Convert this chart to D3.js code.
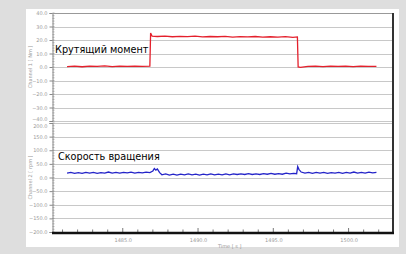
<!DOCTYPE html>
<html lang="ru">
<head>
    <meta charset="utf-8">
    <title>Torque and speed</title>
    <style>
        body, html { margin: 0; height: 100%; overflow: hidden; background: #dedede; }
        svg { display: block; }
        .tick-label { font: 5px "DejaVu Sans", sans-serif; fill: #999; }
        .note { font: 9.7px "DejaVu Sans", sans-serif; fill: #000; }
    </style>
    <script src="https://d3js.org/d3.v7.min.js"></script>
</head>
<body>
    <svg></svg>

    <script>
        // values
        const torqueTicks = [40, 30, 20, 10, 0, -10, -20, -30, -40];
        const speedTicks = [200, 150, 100, 50, 0, -50, -100, -150, -200];
        const timeTicks = [1485, 1490, 1495, 1500];

        const torqueTime = [1481.3, 1481.8, 1482.3, 1482.8, 1483.3, 1483.8, 1484.3, 1484.8, 1485.3, 1485.8, 1486.3, 1486.8,
            1486.85, 1486.95,
            1487.3, 1487.8, 1488.3, 1488.8, 1489.3, 1489.8, 1490.3, 1490.8, 1491.3, 1491.8, 1492.3, 1492.8, 1493.3, 1493.8,
            1494.3, 1494.8, 1495.3, 1495.8, 1496.3,
            1496.6, 1496.65, 1496.8,
            1497.3, 1497.8, 1498.3, 1498.8, 1499.3, 1499.8, 1500.3, 1500.8, 1501.3, 1501.85];
        const torqueVal = [0.3, 0.6, 0.2, 0.7, 0.4, 0.8, 0.3, 0.6, 0.5, 0.7, 0.4, 0.6,
            25.2, 22.8,
            22.6, 22.9, 22.4, 22.7, 22.5, 22.8, 22.3, 22.6, 22.4, 22.7, 22.2, 22.5, 22.3, 22.6,
            22.1, 22.4, 22.2, 22.5, 22.0,
            22.3, 0.0, -0.3,
            0.4, 0.6, 0.3, 0.7, 0.4, 0.6, 0.3, 0.7, 0.4, 0.5];

        const speed = [
            [1481.3, 16], [1481.55, 19], [1481.8, 15], [1482.05, 18], [1482.3, 15], [1482.55, 19], [1482.8, 16],
            [1483.05, 19], [1483.3, 15], [1483.55, 18], [1483.8, 16], [1484.05, 20], [1484.3, 16], [1484.55, 19],
            [1484.8, 16], [1485.05, 19], [1485.3, 17], [1485.55, 20], [1485.8, 16], [1486.05, 19], [1486.3, 17],
            [1486.55, 20], [1486.8, 18], [1487.0, 24], [1487.1, 33], [1487.2, 27], [1487.3, 31], [1487.45, 18],
            [1487.6, 10], [1487.85, 13], [1488.1, 9], [1488.35, 12], [1488.6, 9], [1488.85, 12], [1489.1, 10],
            [1489.35, 13], [1489.6, 10], [1489.85, 12], [1490.1, 9], [1490.35, 12], [1490.6, 10], [1490.85, 13],
            [1491.1, 10], [1491.35, 12], [1491.6, 10], [1491.85, 13], [1492.1, 10], [1492.35, 13], [1492.6, 11],
            [1492.85, 13], [1493.1, 11], [1493.35, 14], [1493.6, 11], [1493.85, 13], [1494.1, 11], [1494.35, 14],
            [1494.6, 12], [1494.85, 15], [1495.1, 12], [1495.35, 14], [1495.6, 12], [1495.85, 16], [1496.1, 13],
            [1496.35, 15], [1496.55, 14], [1496.62, 40], [1496.7, 30], [1496.85, 20], [1497.1, 16], [1497.35, 19],
            [1497.6, 15], [1497.85, 19], [1498.1, 16], [1498.35, 19], [1498.6, 15], [1498.85, 18], [1499.1, 16],
            [1499.35, 19], [1499.6, 15], [1499.85, 19], [1500.1, 16], [1500.35, 20], [1500.6, 16], [1500.85, 19],
            [1501.1, 16], [1501.35, 20], [1501.6, 17], [1501.85, 19]
        ];

        const width = 406, height = 254;
        const plotL = 52, plotR = 393, plotT = 13, plotB = 232;

        const svg = d3.select("svg").attr("width", width).attr("height", height);

        // white panel
        svg.append("rect")
            .attr("x", 26).attr("y", 9)
            .attr("width", 373).attr("height", 238)
            .attr("fill", "#fff");

        const x = d3.scaleLinear().domain([1480.3, 1502.95]).range([plotL, plotR]);
        const yT = d3.scaleLinear().domain([-40, 40]).range([121, plotT]);
        const yS = d3.scaleLinear().domain([-200, 200]).range([plotB, 123]);

        // gridlines
        const grid = svg.append("g").attr("stroke", "#c8c8c8").attr("stroke-width", 1);
        torqueTicks.forEach(t => {
            grid.append("line")
                .attr("x1", plotL).attr("x2", plotR)
                .attr("y1", Math.round(yT(t)) + 0.5).attr("y2", Math.round(yT(t)) + 0.5);
        });
        speedTicks.filter(t => t > -200).forEach(t => {
            grid.append("line")
                .attr("x1", plotL).attr("x2", plotR)
                .attr("y1", Math.round(yS(t)) + 0.5).attr("y2", Math.round(yS(t)) + 0.5);
        });

        // left axes
        const axT = d3.axisLeft(yT).tickValues(torqueTicks).tickFormat(d3.format(".1f")).tickSize(3).tickPadding(2);
        const axS = d3.axisLeft(yS).tickValues(speedTicks).tickFormat(d3.format(".1f")).tickSize(3).tickPadding(2);
        [[axT, yT, d3.range(-40, 41, 2), -40, -2.6], [axS, yS, d3.range(-200, 201, 10), 200, 2.6]].forEach(([ax, sc, minor, edge, nudge]) => {
            const g = svg.append("g").attr("transform", `translate(${plotL + 0.5},0)`).call(ax);
            g.select(".domain").attr("stroke", "#888");
            g.selectAll(".tick line").attr("stroke", "#888");
            g.selectAll(".tick text").attr("class", "tick-label");
            // the two panels touch, so pull the touching labels apart a little
            g.selectAll(".tick").filter(d => d === edge).select("text").attr("y", nudge);
            g.selectAll(".minor").data(minor).enter().append("line")
                .attr("x1", 0).attr("x2", 2)
                .attr("y1", d => sc(d)).attr("y2", d => sc(d))
                .attr("stroke", "#888").attr("stroke-width", 0.6);
        });

        // axis titles
        svg.append("text").attr("class", "tick-label")
            .attr("transform", `translate(32,${yT(0)}) rotate(-90)`)
            .attr("text-anchor", "middle")
            .text("Channel 1 [ Nm ]");
        svg.append("text").attr("class", "tick-label")
            .attr("transform", `translate(32,${yS(0)}) rotate(-90)`)
            .attr("text-anchor", "middle")
            .text("Channel 2 [ rpm ]");

        // bottom axis
        const axX = d3.axisBottom(x).tickValues(timeTicks).tickFormat(d3.format(".1f")).tickSize(0).tickPadding(6);
        const gx = svg.append("g").attr("transform", `translate(0,${plotB})`).call(axX);
        gx.select(".domain").remove();
        gx.selectAll(".tick text").attr("class", "tick-label");
        gx.selectAll(".minor").data(d3.range(1481, 1503)).enter().append("line")
            .attr("x1", d => x(d)).attr("x2", d => x(d))
            .attr("y1", d => d % 5 === 0 ? -4 : -2.5).attr("y2", 0)
            .attr("stroke", "#555").attr("stroke-width", 0.8);
        svg.append("text").attr("class", "tick-label")
            .attr("x", x(1492.1)).attr("y", 248)
            .attr("text-anchor", "middle")
            .text("Time [ s ]");

        // frame
        svg.append("line").attr("x1", plotL).attr("x2", plotR).attr("y1", plotT + 0.5).attr("y2", plotT + 0.5)
            .attr("stroke", "#999");
        svg.append("line").attr("x1", plotR).attr("x2", plotR).attr("y1", plotT).attr("y2", plotB + 2)
            .attr("stroke", "#333").attr("stroke-width", 2);
        svg.append("line").attr("x1", plotL).attr("x2", plotR + 1).attr("y1", plotB + 1).attr("y2", plotB + 1)
            .attr("stroke", "#111").attr("stroke-width", 2.5);

        // series
        const torqueLine = d3.line().x(i => x(torqueTime[i])).y(i => yT(torqueVal[i]));
        svg.append("path")
            .attr("d", torqueLine(d3.range(torqueTime.length)))
            .attr("fill", "none").attr("stroke", "#e4202c").attr("stroke-width", 1.3);

        const speedLine = d3.line().x(d => x(d[0])).y(d => yS(d[1]));
        svg.append("path")
            .attr("d", speedLine(speed))
            .attr("fill", "none").attr("stroke", "#2424c8").attr("stroke-width", 1.3);

        // labels
        svg.append("text").attr("class", "note").attr("x", 55).attr("y", 53).text("Крутящий момент");
        svg.append("text").attr("class", "note").attr("x", 58).attr("y", 160).text("Скорость вращения");
    </script>
</body>
</html>
